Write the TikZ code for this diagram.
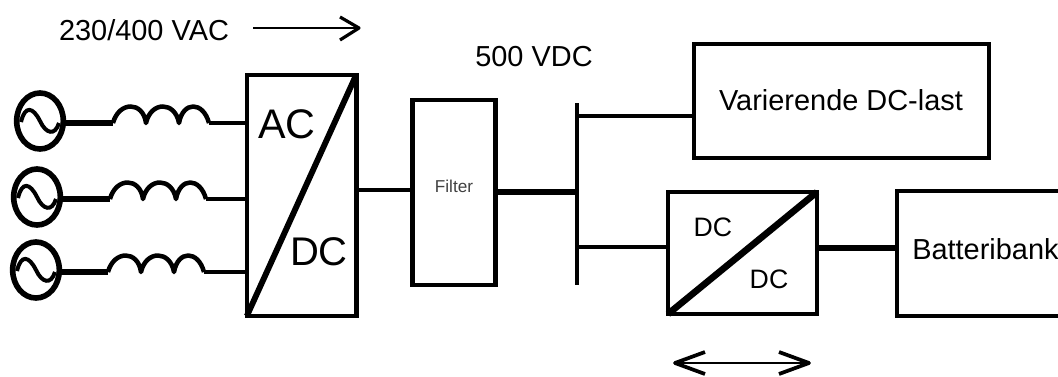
\documentclass[tikz,border=0pt]{standalone}
\usepackage{fontspec}
\setmainfont{Liberation Sans}
\usetikzlibrary{shapes.geometric,calc}

\tikzset{
  blockbox/.style = {
    draw,
    line width   = 3.5pt,
    rectangle,
    outer sep    = 0pt,
    inner sep    = 0pt
  },
  blocktext/.style = {
    inner sep    = 0pt,
    font         = \fontsize{21.7}{26}\selectfont
  },
  sourcering/.style = {
    draw,
    ellipse,
    line width   = 4.2pt,
    outer sep    = 0pt,
    inner sep    = 0pt,
    minimum width  = 35pt,
    minimum height = 42pt
  },
  wire/.style = {line width = 3.4pt},
  heavywire/.style = {line width = 4pt},
  flowarrow/.style = {line width = 1.9pt}
}

\begin{document}
\begin{tikzpicture}[x=0.75pt,y=-0.75pt]
  \useasboundingbox (0,0) rectangle (1058,376);

  % converter and filter
  \node[blockbox, minimum width=82pt, minimum height=180.75pt] (acdc) at (301.5,195.5) {};
  \node[blockbox, minimum width=62pt, minimum height=138.75pt] (filter) at (454,192.5) {};
  \node[blockbox, minimum width=221.25pt, minimum height=85.5pt] (load) at (841.5,101) {};
  \node[blockbox, minimum width=111.75pt, minimum height=91.5pt] (dcdc) at (742.5,253) {};
  \node[blockbox, minimum width=135pt, minimum height=93.75pt] (bank) at (987,253.5) {};

  \draw[line width=4.4pt] (acdc.south west) -- (acdc.north east);
  \draw[line width=5pt] (dcdc.south west) -- (dcdc.north east);

  \node[blocktext, font=\fontsize{31}{36}\selectfont] (aclabel) at (287,124) {AC};
  \node[blocktext, font=\fontsize{30}{36}\selectfont] (dclabel) at (319,252) {DC};
  \node[blocktext, font=\fontsize{12.9}{15}\selectfont, text=black!75] (filterlabel) at (454,186) {Filter};
  \node[blocktext, font=\fontsize{20}{24}\selectfont] (dcin) at (713,227) {DC};
  \node[blocktext, font=\fontsize{20}{24}\selectfont] (dcout) at (769,279) {DC};
  \node[blocktext] (loadlabel) at (841,100) {Varierende DC-last};
  \node[blocktext, anchor=west] (banklabel) at (912,249) {Batteribank};
  \node[blocktext] (aclevel) at (144,30) {230/400 VAC};
  \node[blocktext] (dclevel) at (534,57) {500 VDC};

  % three phases
  \foreach \n/\sx/\sy/\lx/\ly in {1/40/121/113/123, 2/37/197/110/199, 3/36/270/108/272}{
    \node[sourcering] (source\n) at (\sx,\sy) {};
    \draw[line width=3pt]
      ($(source\n)+(-19,1)$) .. controls ($(source\n)+(-15,-16)$) and ($(source\n)+(-7,-14)$) .. ($(source\n)+(0,0)$)
      .. controls ($(source\n)+(6,13)$) and ($(source\n)+(15,15)$) .. ($(source\n)+(19,2)$);
    \coordinate (coilin\n) at (\lx,\ly);
    \coordinate (coilout\n) at (\lx+96,\ly);
    \draw[line width=4.4pt] (source\n.east |- coilin\n) -- (coilin\n);
    \draw[wire, line join=round]
      (coilin\n) .. controls (\lx+6,\ly-22) and (\lx+30,\ly-22) .. (\lx+33,\ly)
      .. controls (\lx+38,\ly-22) and (\lx+62,\ly-22) .. (\lx+66,\ly)
      .. controls (\lx+70,\ly-22) and (\lx+90,\ly-22) .. (coilout\n);
    \draw[wire] (coilout\n) -- (coilout\n -| acdc.west);
  }

  % dc side
  \coordinate (bustop) at (577,103);
  \coordinate (busbottom) at (577,285);
  \draw[wire] (bustop) -- (busbottom);
  \draw[wire] (acdc.east |- 0,190) -- (filter.west |- 0,190);
  \draw[heavywire] (filter.east |- 0,192) -- (bustop |- 0,192);
  \draw[wire] (bustop |- 0,116) -- (load.west |- 0,116);
  \draw[wire] (bustop |- 0,247) -- (dcdc.west |- 0,247);
  \draw[heavywire] (dcdc.east |- 0,248) -- (bank.west |- 0,248);

  % power direction
  \coordinate (acstart) at (253,28);
  \coordinate (actip) at (359,28);
  \coordinate (dcleft) at (675,363);
  \coordinate (dcright) at (809,363);
  \draw[flowarrow] (acstart) -- (actip);
  \draw[line width=2.4pt, line join=round] ($(actip)+(-19,-11)$) -- (actip) -- ($(actip)+(-19,12)$);
  \draw[flowarrow] (dcleft) -- (dcright);
  \draw[line width=2.8pt, line join=round] ($(dcleft)+(30,-11)$) -- (dcleft) -- ($(dcleft)+(30,11)$);
  \draw[line width=2.8pt, line join=round] ($(dcright)+(-30,-11)$) -- (dcright) -- ($(dcright)+(-30,11)$);
\end{tikzpicture}
\end{document}
